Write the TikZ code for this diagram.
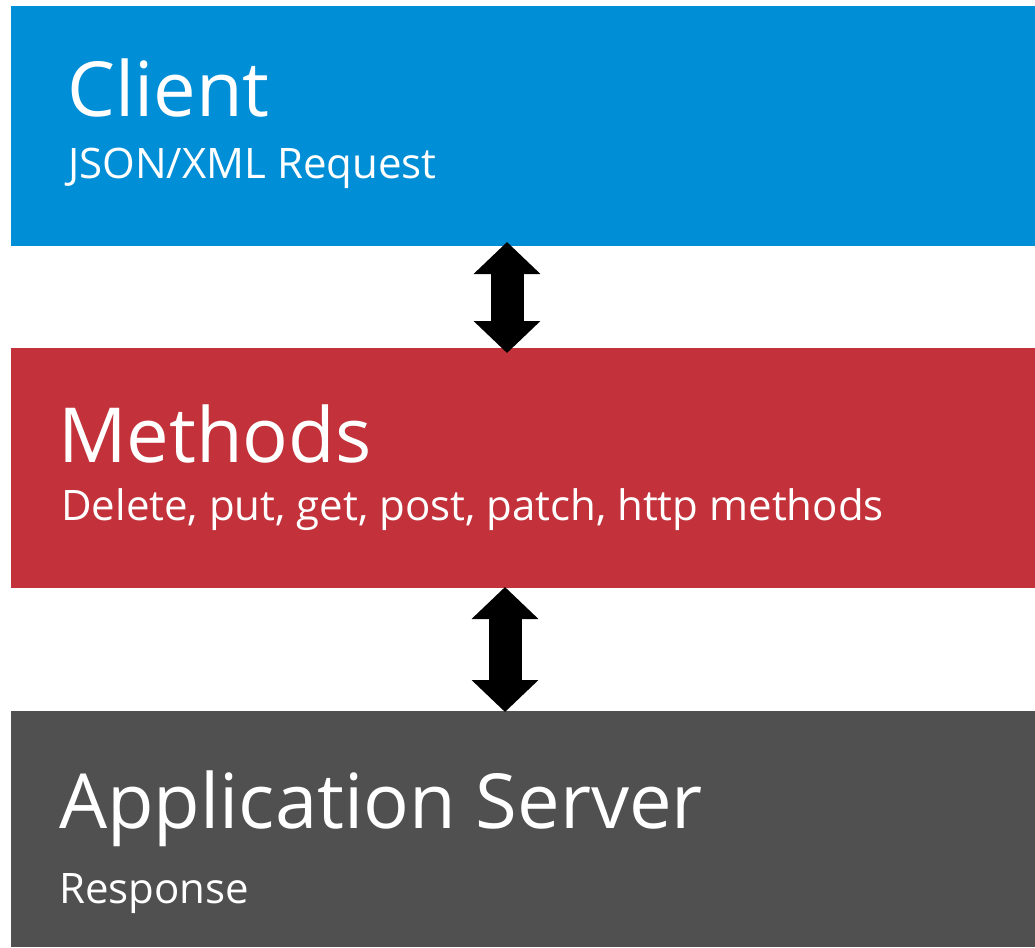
\documentclass[tikz,border=0pt]{standalone}
\usepackage{fontspec}
\setmainfont{Open Sans}
\usetikzlibrary{arrows.meta}
\definecolor{clientblue}{RGB}{0,142,214}
\definecolor{methodred}{RGB}{195,50,58}
\definecolor{servergray}{RGB}{80,80,80}

\begin{document}
\begin{tikzpicture}[x=1pt, y=-1pt,
  layer/.style={fill=#1, draw=none, minimum width=1024pt, inner sep=0pt, outer sep=0pt},
  heading/.style={text=white, anchor=base west, inner sep=0pt, font=\fontsize{76}{80}\selectfont},
  subline/.style={text=white, anchor=base west, inner sep=0pt, font=\fontsize{42}{46}\selectfont},
  updown/.style={line width=33pt, {Triangle[length=32pt, width=65pt]}-{Triangle[length=32pt, width=65pt]}}
]
  \useasboundingbox (0,0) rectangle (1035,947);
  % --- the three layers ---
  \node[layer=clientblue, minimum height=240pt] (client) at (523,126) {};
  \node[layer=methodred, minimum height=240pt] (methods) at (523,468) {};
  \node[layer=servergray, minimum height=236pt] (server) at (523,829) {};
  % --- texts ---
  \node[heading] (clienttitle) at (67,117) {Client};
  \node[subline] (clientnote) at (68,178) {JSON/XML Request};
  \node[heading] (methodstitle) at (58,462) {Methods};
  \node[subline] (methodsnote) at (61,520) {Delete, put, get, post, patch, http methods};
  \node[heading] (servertitle) at (59,828) {Application Server};
  \node[subline] (servernote) at (59,903) {Response};
  % --- arrows ---
  \draw[updown, shorten <=-4pt, shorten >=-5pt] ([xshift=-16pt]client.south) -- ([xshift=-16pt]methods.north);
  \draw[updown, shorten <=-1pt, shorten >=-1pt] ([xshift=-18pt]methods.south) -- ([xshift=-18pt]server.north);
\end{tikzpicture}
\end{document}
